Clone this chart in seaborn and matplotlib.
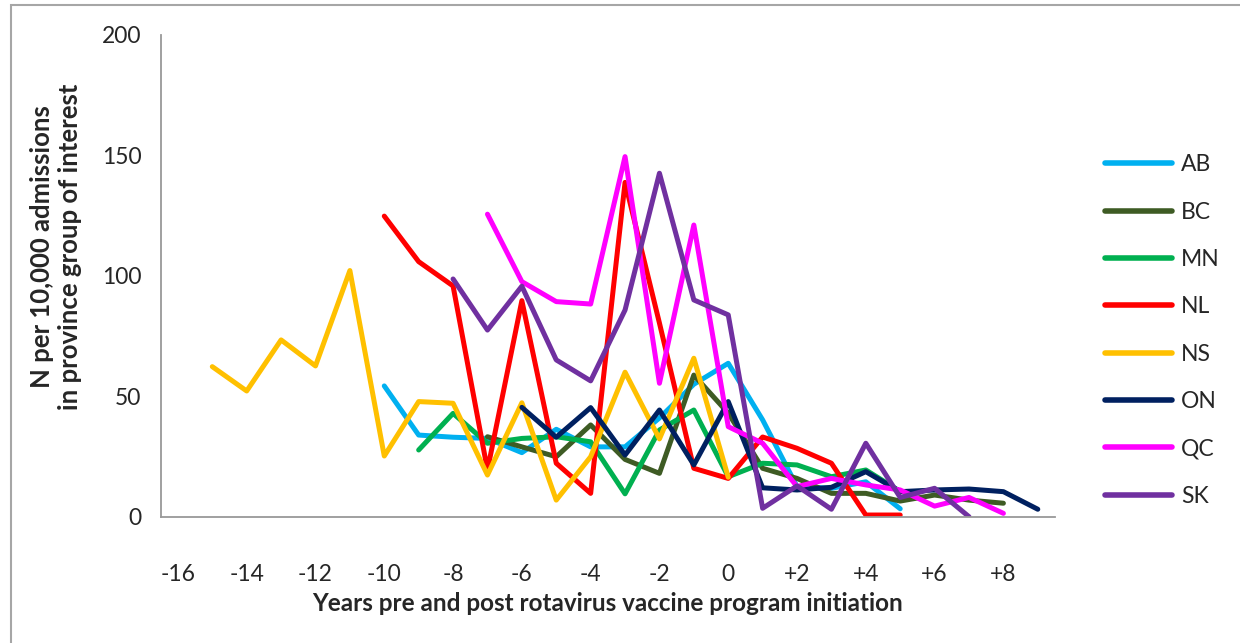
import numpy as np
import pandas as pd
import matplotlib
matplotlib.use("Agg")
import matplotlib.pyplot as plt
from matplotlib.patches import Rectangle
import seaborn as sns

# years relative to vaccine program start (one value per year, NaN = no data)
years = list(range(-16, 10))

AB = [np.nan] * 6 + [54.3, 33.9, 33.0, 32.5, 26.6, 36.3, 29.0, 29.0, 41.0, 55.0, 63.7, 40.2, 12.5, 11.8, 14.5, 3.3, np.nan, np.nan, np.nan, np.nan]
BC = [np.nan] * 9 + [33.2, 29.0, 24.9, 38.1, 23.8, 18.0, 58.8, 43.0, 20.1, 15.9, 9.7, 9.7, 6.5, 9.0, 6.9, 5.6, np.nan]
MN = [np.nan] * 7 + [27.7, 42.9, 30.5, 32.5, 33.2, 31.1, 9.5, 36.0, 44.3, 16.6, 22.2, 21.5, 16.6, 19.4, 10.5, np.nan, np.nan, np.nan, np.nan]
NL = [np.nan] * 6 + [124.8, 105.9, 95.8, 19.4, 89.7, 22.2, 9.7, 138.8, 80.4, 20.1, 15.9, 33.1, 28.4, 22.2, 0.7, 0.7, np.nan, np.nan, np.nan, np.nan]
NS = [np.nan, 62.3, 52.2, 73.4, 62.6, 102.2, 25.2, 47.8, 47.1, 17.3, 47.3, 6.9, 24.9, 60.0, 32.3, 65.8, 16.4] + [np.nan] * 9
ON = [np.nan] * 10 + [45.4, 33.0, 45.3, 25.6, 44.3, 21.5, 47.8, 12.0, 11.1, 12.2, 18.7, 10.4, 11.1, 11.5, 10.4, 3.1]
QC = [np.nan] * 9 + [125.6, 97.6, 89.3, 88.3, 149.5, 55.4, 121.1, 37.4, 30.5, 12.5, 15.9, 13.2, 11.1, 4.4, 8.0, 1.4, np.nan]
SK = [np.nan] * 8 + [98.7, 77.5, 95.7, 65.1, 56.4, 85.8, 142.6, 90.0, 83.8, 3.5, 12.8, 3.1, 30.5, 8.0, 11.8, 0.0, np.nan, np.nan]

provinces = ["AB", "BC", "MN", "NL", "NS", "ON", "QC", "SK"]
series = [AB, BC, MN, NL, NS, ON, QC, SK]
colors = {"AB": "#00B0F0", "BC": "#3E5B24", "MN": "#00B050", "NL": "#FF0000",
          "NS": "#FFC000", "ON": "#002060", "QC": "#FF00FF", "SK": "#7030A0"}

rows = []
for p, vals in zip(provinces, series):
    for yr, v in zip(years, vals):
        if not np.isnan(v):
            rows.append({"year": yr, "value": v, "province": p})
df = pd.DataFrame(rows)

sns.set_style("white")
plt.rcParams["font.family"] = ["Lato", "DejaVu Sans"]

fig = plt.figure(figsize=(12.4, 6.43), dpi=100)
ax = fig.add_axes([0.1296, 0.1964, 0.7212, 0.7492])

sns.lineplot(data=df, x="year", y="value", hue="province", hue_order=provinces,
             palette=colors, linewidth=3.6, errorbar=None, ax=ax,
             solid_capstyle="round", solid_joinstyle="round")

ax.set_xlim(-16.5, 9.5)
ax.set_ylim(0, 200)

# labels at even years, tick marks at category boundaries
lab_pos = list(range(-16, 9, 2))
ax.set_xticks(lab_pos)
ax.set_xticklabels([("+%d" % v) if v > 0 else str(v) for v in lab_pos])
ax.set_xticks(np.arange(-16.5, 9.6, 2), minor=True)
ax.tick_params(axis="x", which="major", length=0, pad=34, labelsize=16.5)
ax.tick_params(axis="x", which="minor", length=8, width=1.2, color="#999999", direction="out")
ax.set_yticks([0, 50, 100, 150, 200])
ax.tick_params(axis="y", length=7, width=1.2, color="#999999", direction="out", pad=7, labelsize=16.5)

for s in ["top", "right"]:
    ax.spines[s].set_visible(False)
for s in ["left", "bottom"]:
    ax.spines[s].set_color("#999999")
    ax.spines[s].set_linewidth(1.3)

ax.set_xlabel("Years pre and post rotavirus vaccine program initiation",
              fontsize=17.5, fontweight="bold", labelpad=5)
ax.set_ylabel("N per 10,000 admissions\nin province group of interest",
              fontsize=18.5, fontweight="bold")
ax.yaxis.set_label_coords(-0.088, 0.56)

leg = ax.legend(loc="upper left", bbox_to_anchor=(1.033, 0.795), frameon=False,
                fontsize=16.5, handlelength=2.9, handletextpad=0.4, labelspacing=1.15)
for h in leg.get_lines():
    h.set_linewidth(4)
    h.set_solid_capstyle("round")

# chart-area frame (only top and left edges fall inside the image)
fig.patches.append(Rectangle((11 / 1240, -0.1), 1.2, 1 - 5 / 643 + 0.1,
                             transform=fig.transFigure, fill=False,
                             edgecolor="#a6a6a6", linewidth=1.5))

fig.savefig("out.png", dpi=100)
